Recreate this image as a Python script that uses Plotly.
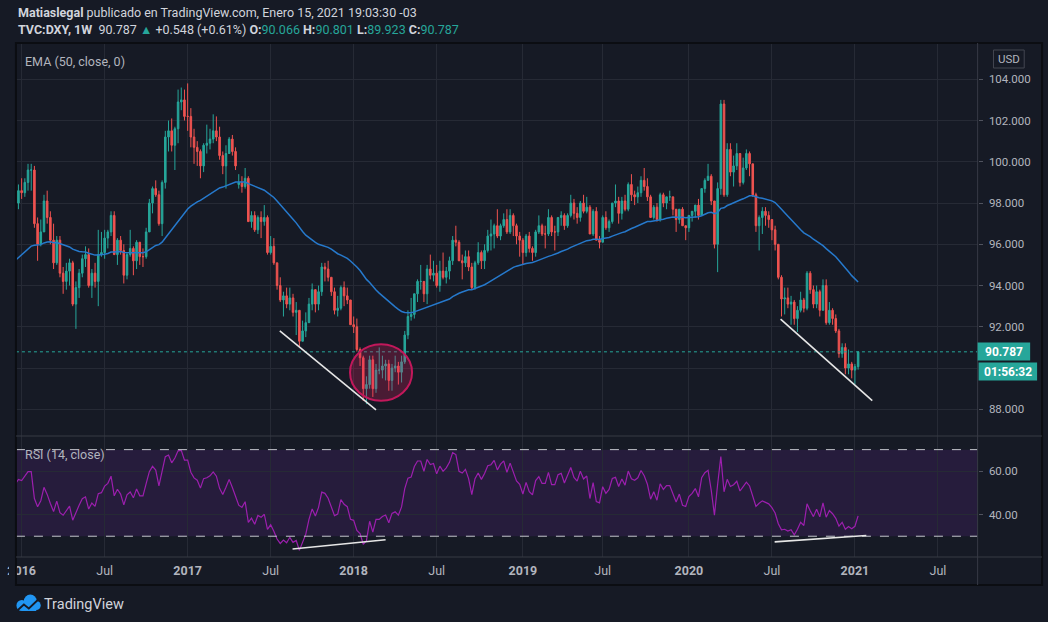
import pandas as pd
import plotly.graph_objects as go

# --- weekly DXY candles (week starting Monday) ---
first_week = "2015-12-21"
first_open = 98.8

close_2015 = [98.0, 98.6]
close_2016 = [98.5, 99.0, 99.6, 99.6, 97.0, 96.0, 96.6, 98.1, 97.3, 96.2, 95.1, 96.2, 94.6,
              94.2, 94.7, 95.1, 93.1, 93.9, 94.6, 95.3, 95.5, 94.0, 94.6, 94.2, 95.5, 95.6,
              96.3, 96.6, 97.4, 95.5, 96.2, 95.7, 94.5, 95.5, 95.8, 95.2, 96.1, 95.4, 95.4,
              96.6, 98.0, 98.7, 98.4, 97.0, 99.0, 101.2, 101.5, 100.8, 101.6, 102.9, 103.0, 102.2]
close_2017 = [102.2, 101.2, 100.7, 100.5, 99.8, 100.8, 100.9, 101.1, 101.5, 101.2, 100.3, 99.8,
              100.4, 101.1, 100.5, 99.8, 99.0, 98.8, 99.2, 97.1, 97.4, 96.7, 97.3, 97.1, 97.3,
              95.6, 95.9, 95.1, 94.0, 93.3, 93.5, 93.1, 93.4, 92.7, 92.8, 91.3, 91.8, 92.2,
              93.1, 93.8, 93.1, 93.7, 94.9, 94.8, 94.4, 93.7, 92.8, 92.9, 93.9, 93.5, 93.3, 92.1]
close_2018 = [92.0, 90.9, 90.5, 89.0, 89.2, 90.4, 89.0, 89.9, 89.9, 90.1, 90.2, 89.4, 90.0,
              90.1, 89.8, 90.3, 91.6, 92.5, 92.6, 93.6, 94.2, 94.2, 93.6, 94.8, 94.5, 94.6,
              94.0, 94.7, 94.4, 94.7, 95.2, 96.2, 96.1, 95.2, 95.1, 95.4, 94.9, 93.9, 95.1,
              95.6, 95.2, 95.7, 96.4, 96.5, 96.9, 96.4, 96.9, 97.2, 96.6, 97.4, 96.9, 96.4, 96.2]
close_2019 = [95.6, 96.4, 95.8, 95.6, 96.6, 96.9, 96.5, 96.5, 97.3, 96.6, 96.6, 97.3, 97.4,
              96.9, 97.4, 98.0, 97.5, 97.3, 98.0, 97.6, 97.8, 96.5, 97.6, 96.2, 96.1, 97.3,
              96.8, 97.1, 98.0, 98.1, 97.5, 98.1, 97.7, 98.9, 98.4, 98.3, 98.5, 99.1, 98.8,
              98.3, 97.3, 97.8, 97.2, 98.4, 98.0, 98.3, 98.3, 97.7, 97.2, 97.7, 96.9, 96.8]
close_2020 = [97.4, 97.6, 97.9, 97.4, 98.7, 99.1, 99.3, 98.1, 96.0, 98.7, 102.8, 98.4, 100.6,
              99.5, 99.8, 100.4, 99.0, 99.7, 100.4, 99.9, 98.4, 96.9, 97.3, 97.6, 97.4, 97.2,
              96.7, 96.0, 94.4, 93.35, 93.4, 93.1, 93.2, 92.4, 92.8, 93.3, 92.9, 94.6, 93.8,
              93.1, 93.7, 92.8, 94.0, 92.2, 92.8, 92.4, 91.8, 90.7, 91.0, 90.0, 90.2, 89.9]
close_2021 = [90.07, 90.787]

high_2015 = [98.9, 98.9]
high_2016 = [99.2, 99.2, 99.9, 99.9, 99.8, 97.3, 97.2, 98.4, 98.6, 97.6, 97.0, 96.4, 96.4,
             94.9, 95.1, 95.3, 95.2, 94.2, 94.8, 95.5, 95.9, 95.8, 94.8, 95.1, 96.7, 96.6,
             96.7, 96.7, 97.6, 97.6, 96.3, 96.4, 96.0, 95.6, 96.7, 95.9, 96.2, 96.1, 95.8,
             96.8, 98.2, 98.8, 99.1, 98.6, 99.1, 101.5, 102.0, 102.1, 101.7, 103.5, 103.6, 103.5]
high_2017 = [103.8, 102.6, 101.6, 101.0, 100.6, 100.9, 101.8, 101.6, 102.3, 102.2, 101.7, 100.5,
             100.8, 101.2, 101.3, 100.7, 99.4, 99.3, 99.7, 99.3, 97.6, 97.6, 97.4, 97.6, 97.9,
             97.4, 96.4, 96.3, 95.1, 94.4, 93.7, 93.9, 93.9, 93.6, 93.2, 92.8, 92.3, 92.7,
             93.4, 94.1, 93.8, 94.0, 95.1, 95.1, 95.2, 94.4, 93.9, 93.5, 94.0, 94.2, 93.9, 93.3]
high_2018 = [92.5, 92.4, 91.0, 90.6, 89.6, 90.6, 90.6, 90.2, 91.0, 90.6, 90.4, 90.4, 90.2,
             90.6, 90.3, 90.6, 91.8, 92.8, 93.4, 93.6, 94.3, 95.0, 94.2, 95.0, 95.5, 95.2,
             95.0, 95.2, 95.6, 94.9, 95.4, 96.4, 96.9, 96.2, 95.5, 95.7, 95.7, 95.1, 95.2,
             96.1, 95.7, 96.0, 96.7, 97.2, 97.0, 97.7, 97.0, 97.5, 97.7, 97.7, 97.5, 97.0, 96.6]
high_2019 = [96.3, 96.5, 96.6, 95.9, 96.7, 97.4, 97.0, 96.9, 97.7, 97.4, 96.9, 97.3, 97.6,
             97.5, 97.5, 98.4, 98.2, 97.8, 98.1, 98.4, 98.3, 97.9, 97.7, 97.8, 96.4, 97.4,
             97.6, 97.2, 98.0, 98.9, 98.3, 98.3, 98.4, 99.0, 99.4, 98.6, 98.8, 99.3, 99.7,
             99.2, 98.4, 97.9, 98.0, 98.5, 98.5, 98.3, 98.6, 98.3, 97.7, 97.7, 97.8, 96.9]
high_2020 = [97.4, 97.6, 97.9, 98.2, 98.7, 99.2, 99.9, 99.4, 98.1, 99.0, 103.0, 103.0, 100.9,
             100.9, 100.3, 100.9, 100.4, 100.2, 100.6, 100.5, 99.9, 98.5, 97.4, 97.8, 97.8,
             97.6, 97.2, 96.9, 96.0, 94.5, 93.9, 93.9, 93.5, 93.3, 93.0, 93.7, 93.4, 94.7,
             94.7, 94.0, 94.0, 93.8, 94.3, 94.3, 93.2, 92.9, 92.6, 91.9, 91.2, 91.2, 90.9, 90.3]
high_2021 = [90.2, 90.801]

low_2015 = [97.6, 97.7]
low_2016 = [98.2, 98.3, 98.6, 98.6, 96.8, 95.2, 95.9, 96.6, 97.0, 96.0, 94.8, 95.0, 94.4,
            93.6, 93.8, 94.0, 93.0, 91.9, 93.4, 94.4, 94.9, 93.9, 93.4, 93.9, 93.0, 95.4,
            95.3, 95.8, 96.4, 95.5, 95.0, 95.5, 94.1, 94.3, 95.4, 94.5, 94.8, 95.0, 94.9,
            95.3, 96.6, 97.5, 98.3, 96.9, 96.4, 98.7, 100.5, 100.5, 99.6, 100.9, 102.5, 102.0]
low_2017 = [101.5, 100.7, 99.9, 99.8, 99.2, 99.5, 100.4, 100.6, 100.9, 101.0, 100.1, 99.4,
            98.7, 100.4, 100.3, 99.6, 98.7, 98.5, 98.7, 97.1, 96.8, 96.6, 96.5, 96.3, 96.9,
            95.5, 95.5, 95.0, 93.8, 93.2, 92.5, 92.9, 92.8, 92.5, 91.6, 91.0, 91.3, 91.5,
            92.2, 92.8, 92.7, 92.8, 93.5, 94.2, 94.2, 93.5, 92.6, 92.5, 92.8, 93.0, 93.1, 92.1]
low_2018 = [91.7, 90.8, 90.1, 88.4, 88.25, 89.0, 88.6, 88.8, 89.7, 89.5, 89.4, 88.9, 88.9,
            89.8, 89.2, 89.3, 90.2, 91.4, 92.3, 92.4, 93.2, 93.8, 93.2, 93.1, 94.3, 94.2,
            93.9, 93.7, 94.3, 94.1, 94.3, 95.0, 95.9, 95.2, 94.3, 94.9, 94.7, 93.8, 93.8,
            95.0, 94.8, 94.8, 95.6, 95.7, 95.8, 96.3, 96.2, 96.8, 96.5, 96.5, 96.4, 96.0, 95.4]
low_2019 = [95.0, 95.4, 95.6, 95.2, 95.4, 96.5, 96.4, 95.8, 96.4, 96.4, 95.7, 96.4, 96.9,
            96.7, 96.8, 97.3, 97.2, 97.0, 97.1, 97.5, 97.5, 96.5, 96.4, 96.2, 95.8, 96.1,
            96.7, 96.6, 97.0, 97.8, 97.0, 97.2, 97.6, 97.6, 98.1, 97.9, 98.0, 98.3, 98.6,
            98.1, 97.3, 97.2, 97.1, 97.1, 97.8, 97.7, 98.1, 97.4, 96.6, 97.0, 96.9, 96.2]
low_2020 = [96.6, 97.1, 97.3, 97.2, 97.4, 98.5, 99.1, 97.9, 95.8, 94.65, 98.4, 98.3, 98.3,
            99.3, 98.8, 99.6, 98.8, 98.9, 99.6, 99.3, 98.3, 96.6, 95.7, 96.5, 96.9, 96.8,
            96.2, 95.7, 94.3, 92.5, 92.6, 92.9, 92.1, 92.1, 91.75, 92.7, 92.7, 92.8, 93.6,
            92.9, 92.9, 92.5, 92.8, 92.1, 92.1, 92.1, 91.7, 90.5, 90.5, 89.7, 89.7, 89.5]
low_2021 = [89.2, 89.923]

# weeks that opened with a gap instead of at the previous close
gap_open = {"2017-04-24": 98.9, "2021-01-11": 90.066}

# earlier weekly closes (mid 2014 - 2015), only used to warm up EMA / RSI
warmup_close = [80.2, 80.1, 80.6, 81.0, 81.4, 81.4, 81.4, 82.3, 82.7, 83.9, 84.3, 84.8, 85.6,
                86.7, 85.9, 85.3, 85.8, 86.9, 87.6, 87.6, 88.2, 88.4, 89.4, 88.4, 89.6, 89.9,
                91.1, 91.8, 92.5, 95.0, 94.8, 94.6, 94.1, 94.4, 95.4, 97.6, 100.0, 97.8, 97.3,
                97.4, 99.3, 97.5, 96.9, 95.4, 94.8, 93.1, 96.0, 96.9, 95.0, 95.2, 94.2, 95.5,
                96.3, 95.9, 97.9, 97.2, 97.3, 97.6, 96.6, 94.6, 96.0, 96.2, 95.2, 95.1, 96.0,
                96.1, 94.9, 94.5, 96.9, 96.9, 99.3, 99.0, 99.6, 100.0, 98.4, 97.6, 98.8]

# axis ticks
x_tickvals = ["2016-01-04", "2016-07-04", "2017-01-02", "2017-07-03", "2018-01-01", "2018-07-02",
              "2019-01-07", "2019-07-01", "2020-01-06", "2020-07-06", "2021-01-04", "2021-07-05"]
x_ticktext = ["<b>2016</b>", "Jul", "<b>2017</b>", "Jul", "<b>2018</b>", "Jul",
              "<b>2019</b>", "Jul", "<b>2020</b>", "Jul", "<b>2021</b>", "Jul"]
price_ticks = [88, 90, 92, 94, 96, 98, 100, 102, 104]
price_ticktext = ["88.000", "", "92.000", "94.000", "96.000", "98.000", "100.000", "102.000", "104.000"]
rsi_ticks = [40, 60]
rsi_ticktext = ["40.00", "60.00"]

# user drawings (date, value) pairs
price_trend_1 = [("2017-07-23", 91.8), ("2018-02-19", 87.97)]
price_trend_2 = [("2020-07-25", 92.37), ("2021-02-11", 88.42)]
rsi_trend_1 = [("2017-08-20", 24.1), ("2018-03-12", 28.4)]
rsi_trend_2 = [("2020-07-12", 27.4), ("2021-01-29", 30.3)]
ellipse_box = [("2017-12-24", 88.42), ("2018-05-09", 91.15)]

last_price = 90.787
countdown = "01:56:32"

# ---------------------------------------------------------------
close = close_2015 + close_2016 + close_2017 + close_2018 + close_2019 + close_2020 + close_2021
high = high_2015 + high_2016 + high_2017 + high_2018 + high_2019 + high_2020 + high_2021
low = low_2015 + low_2016 + low_2017 + low_2018 + low_2019 + low_2020 + low_2021

dates = pd.date_range(first_week, periods=len(close), freq="W-MON")
df = pd.DataFrame({"close": close, "high": high, "low": low}, index=dates)
df["open"] = df["close"].shift(1)
df.iloc[0, df.columns.get_loc("open")] = first_open
for d, v in gap_open.items():
    df.loc[pd.Timestamp(d), "open"] = v
df["high"] = df[["high", "open", "close"]].max(axis=1)
df["low"] = df[["low", "open", "close"]].min(axis=1)

full = pd.Series(warmup_close + close)
ema = full.ewm(span=50, adjust=False).mean().iloc[len(warmup_close):].values
delta = full.diff()
gain = delta.clip(lower=0).ewm(alpha=1 / 14, adjust=False).mean()
loss = (-delta.clip(upper=0)).ewm(alpha=1 / 14, adjust=False).mean()
rsi = (100 - 100 / (1 + gain / loss)).iloc[len(warmup_close):].values

W, H = 1048, 622
BG = "#161a25"
GRID = "#262a35"
TXT = "#b2b5be"
UP, DOWN = "#26a69a", "#ef5350"
FONT = "Roboto"


def px(x):
    return x / W


def py(y):
    return 1 - y / H


fig = go.Figure()
fig.add_trace(go.Candlestick(
    x=df.index, open=df["open"], high=df["high"], low=df["low"], close=df["close"],
    increasing=dict(line=dict(color=UP, width=1), fillcolor=UP),
    decreasing=dict(line=dict(color=DOWN, width=1), fillcolor=DOWN),
    whiskerwidth=0, hoverinfo="skip", xaxis="x", yaxis="y"))
fig.add_trace(go.Scatter(x=dates, y=ema, mode="lines", line=dict(color="#2679cc", width=1.5),
                         hoverinfo="skip", xaxis="x", yaxis="y"))
fig.add_trace(go.Scatter(x=dates, y=rsi, mode="lines", line=dict(color="#9c1fae", width=1.2),
                         hoverinfo="skip", xaxis="x", yaxis="y2"))

shapes = []
# RSI band and its 70 / 30 levels
shapes.append(dict(type="rect", xref="paper", yref="y2", x0=px(7), x1=px(977), y0=30, y1=70,
                   fillcolor="#261c3c", line=dict(width=0), layer="below"))
for lvl in (70, 30):
    shapes.append(dict(type="line", xref="paper", yref="y2", x0=px(7), x1=px(977), y0=lvl, y1=lvl,
                       line=dict(color="#c3c5cc", width=1, dash="dash")))
# last price dotted line
shapes.append(dict(type="line", xref="paper", yref="y", x0=px(7), x1=px(977), y0=last_price,
                   y1=last_price, line=dict(color=UP, width=1, dash="dot")))
# drawings
(e0, e1) = ellipse_box
shapes.append(dict(type="circle", xref="x", yref="y", x0=e0[0], x1=e1[0], y0=e0[1], y1=e1[1],
                   fillcolor="rgba(233,30,99,0.25)", line=dict(color="#c2185b", width=2), layer="above"))
for seg, ax in ((price_trend_1, "y"), (price_trend_2, "y"), (rsi_trend_1, "y2"), (rsi_trend_2, "y2")):
    shapes.append(dict(type="line", xref="x", yref=ax, x0=seg[0][0], y0=seg[0][1], x1=seg[1][0],
                       y1=seg[1][1], line=dict(color="#e6e6e6", width=1.6)))
# frame and separators
shapes.append(dict(type="rect", xref="paper", yref="paper", x0=px(7), x1=px(1042), y0=py(585),
                   y1=py(43), line=dict(color="#0b0d12", width=2)))
for yy in (436, 557):
    shapes.append(dict(type="line", xref="paper", yref="paper", x0=px(7), x1=px(1042), y0=py(yy),
                       y1=py(yy), line=dict(color="#363a45", width=1)))
shapes.append(dict(type="line", xref="paper", yref="paper", x0=px(977), x1=px(977), y0=py(585),
                   y1=py(43), line=dict(color="#363a45", width=1)))
# hide the part of the first date label that falls left of the pane
shapes.append(dict(type="rect", xref="paper", yref="paper", x0=0, x1=px(6), y0=py(584), y1=py(558),
                   fillcolor=BG, line=dict(width=0), layer="above"))
# price / countdown labels on the axis
shapes.append(dict(type="rect", xref="paper", yref="paper", x0=px(977), x1=px(1030), y0=py(360.5),
                   y1=py(342.5), fillcolor=UP, line=dict(width=0), layer="above"))
shapes.append(dict(type="rect", xref="paper", yref="paper", x0=px(978), x1=px(1037), y0=py(380.5),
                   y1=py(362.5), fillcolor=UP, line=dict(width=0), layer="above"))
# USD badge
shapes.append(dict(type="rect", xref="paper", yref="paper", x0=px(993), x1=px(1024), y0=py(68),
                   y1=py(50), line=dict(color="#434651", width=1), fillcolor=BG))
# TradingView logo (cloud with a dark zig-zag)
for cx, cy, r in ((13.0, 605.5, 5.5), (21.5, 601.0, 6.5), (27.5, 605.5, 4.5)):
    shapes.append(dict(type="circle", xref="paper", yref="paper", x0=px(cx - r), x1=px(cx + r),
                       y0=py(cy + r), y1=py(cy - r), fillcolor="#2196f3", line=dict(width=0)))
shapes.append(dict(type="rect", xref="paper", yref="paper", x0=px(13.0), x1=px(27.5), y0=py(611),
                   y1=py(604), fillcolor="#2196f3", line=dict(width=0)))
zig = [(9, 610), (15, 604.5), (20, 608.5), (29, 600)]
path = "M " + " L ".join(f"{px(a):.5f},{py(b):.5f}" for a, b in zig)
shapes.append(dict(type="path", xref="paper", yref="paper", path=path,
                   line=dict(color=BG, width=1.8)))

teal = f"<span style='color:{UP}'>"
annotations = [
    dict(text="<b>Matiaslegal</b> publicado en TradingView.com, Enero 15, 2021 19:03:30 -03",
         x=px(7), y=py(12), font=dict(size=12.5, color="#d1d4dc")),
    dict(text=f"<b>TVC:DXY, 1W</b>  90.787 {teal}▲</span> +0.548 (+0.61%) "
              f"<b>O:</b>{teal}90.066</span> <b>H:</b>{teal}90.801</span> "
              f"<b>L:</b>{teal}89.923</span> <b>C:</b>{teal}90.787</span>",
         x=px(7), y=py(30), font=dict(size=12.5, color="#d1d4dc")),
    dict(text="EMA (50, close, 0)", x=px(14), y=py(61), font=dict(size=12.5, color=TXT)),
    dict(text="RSI (14, close)", x=px(14), y=py(454), font=dict(size=12.5, color=TXT)),
    dict(text="USD", x=px(1008.5), y=py(59), xanchor="center", font=dict(size=11.5, color=TXT)),
    dict(text=f"<b>{last_price:.3f}</b>", x=px(1003.5), y=py(351.5), xanchor="center",
         font=dict(size=12, color="#ffffff")),
    dict(text=f"<b>{countdown}</b>", x=px(1007.5), y=py(371.5), xanchor="center",
         font=dict(size=12, color="#ffffff")),
    dict(text="TradingView", x=px(33), y=py(604), font=dict(size=14.5, color="#d1d4dc")),
]
for a in annotations:
    a.setdefault("xanchor", "left")
    a.update(xref="paper", yref="paper", yanchor="middle", showarrow=False)

fig.update_layout(
    width=W, height=H, margin=dict(l=0, r=0, t=0, b=0),
    paper_bgcolor=BG, plot_bgcolor=BG, showlegend=False,
    font=dict(family=FONT, color=TXT, size=12),
    shapes=shapes, annotations=annotations,
    xaxis=dict(domain=[px(7), px(977)], anchor="y2", type="date",
               range=["2015-12-22 12:00", "2021-09-30"],
               tickvals=x_tickvals, ticktext=x_ticktext, tickfont=dict(size=12.5, color=TXT),
               showgrid=True, gridcolor=GRID, zeroline=False, showline=False, ticks="",
               ticklabelstandoff=4, ticklabeloverflow="allow", rangeslider=dict(visible=False)),
    yaxis=dict(domain=[py(436), py(44)], anchor="x", side="right", range=[86.706, 105.71],
               tickvals=price_ticks, ticktext=price_ticktext, tickfont=dict(size=11.5, color=TXT),
               showgrid=True, gridcolor=GRID, zeroline=False, ticks="outside", ticklen=4,
               tickcolor="#50535e", ticklabelstandoff=4),
    yaxis2=dict(domain=[py(557), py(436)], anchor="x", side="right", range=[20.4, 76.3],
                tickvals=rsi_ticks, ticktext=rsi_ticktext, tickfont=dict(size=11.5, color=TXT),
                showgrid=True, gridcolor=GRID, zeroline=False, ticks="outside", ticklen=4,
                tickcolor="#50535e", ticklabelstandoff=4),
)

# remove the browser's default page margin so the figure sits at the window origin
fig.write_html("out.html", config={"displayModeBar": False},
               post_script="document.body.style.margin='0';"
                           "document.body.style.background='" + BG + "';")
